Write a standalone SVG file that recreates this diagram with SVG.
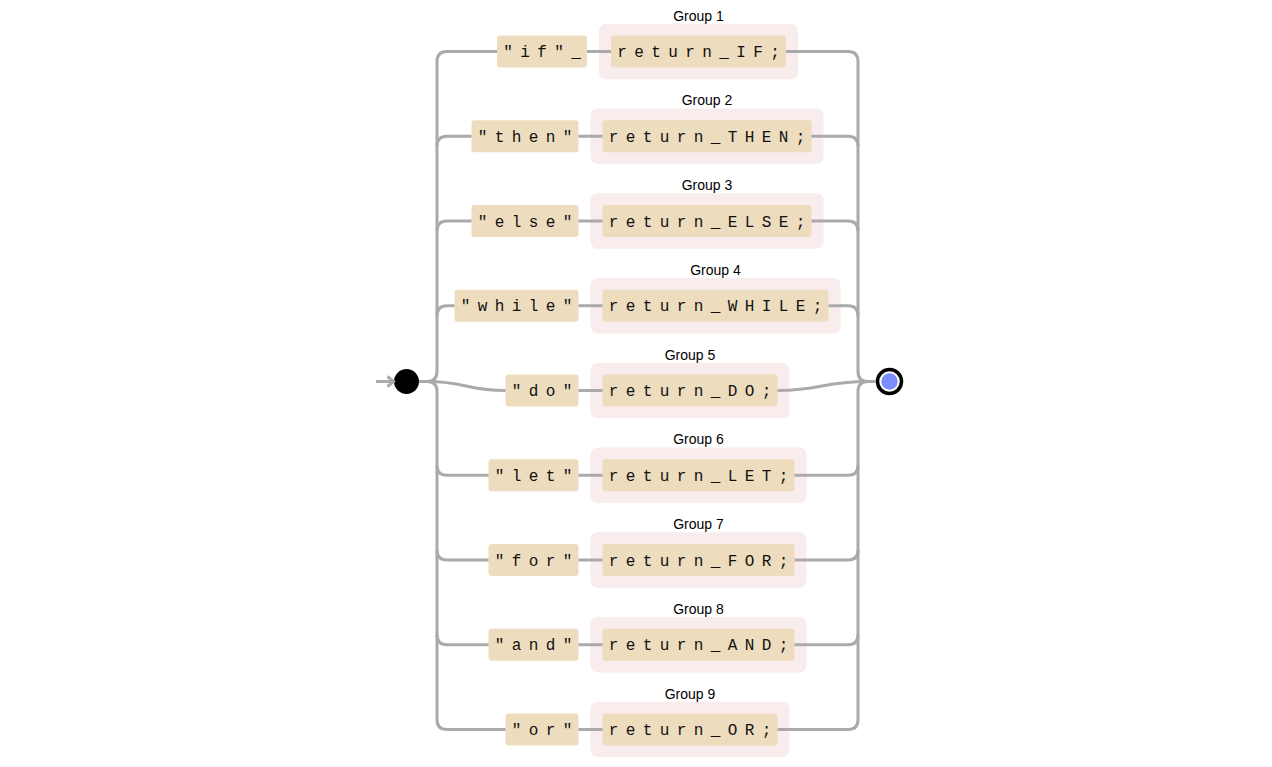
<svg xmlns="http://www.w3.org/2000/svg" width="1272" height="767" viewBox="0 0 1272 767">
<style>
.grp{fill:#f8ecec;}
.box{fill:#eddcbd;}
.lit{font-family:"Liberation Mono","DejaVu Sans Mono",monospace;font-size:16px;letter-spacing:7.4px;fill:#111;}
.lbl{font-family:"Liberation Sans",Arial,sans-serif;font-size:14px;fill:#000;text-anchor:middle;}
.wire{fill:none;stroke:#aaaaaa;stroke-width:3;}
</style>
<rect width="1272" height="767" fill="#ffffff"/>
<g id="start">
<circle cx="406.5" cy="381.5" r="12.5" fill="#000"/>
</g>
<g id="end">
<circle cx="889.5" cy="381.5" r="12" fill="#ffffff" stroke="#000" stroke-width="3.5"/>
<circle cx="889.5" cy="381.5" r="8.2" fill="#7b8cff"/>
</g>
<g id="row1">
<rect class="grp" x="599" y="23.75" width="199" height="55.5" rx="7"/>
<text class="lbl" x="698.5" y="20.5">Group 1</text>
<rect class="box" x="497" y="35.5" width="90" height="32" rx="3"/>
<text class="lit" x="503.2" y="57">"if"_</text>
<rect class="box" x="611" y="35.5" width="175" height="32" rx="3"/>
<text class="lit" x="617.2" y="57">return_IF;</text>
</g>
<g id="row2">
<rect class="grp" x="590.5" y="108.5" width="233" height="55.5" rx="7"/>
<text class="lbl" x="707" y="105.25">Group 2</text>
<rect class="box" x="471.5" y="120.25" width="107" height="32" rx="3"/>
<text class="lit" x="477.7" y="141.75">"then"</text>
<rect class="box" x="602.5" y="120.25" width="209" height="32" rx="3"/>
<text class="lit" x="608.7" y="141.75">return_THEN;</text>
</g>
<g id="row3">
<rect class="grp" x="590.5" y="193.25" width="233" height="55.5" rx="7"/>
<text class="lbl" x="707" y="190">Group 3</text>
<rect class="box" x="471.5" y="205" width="107" height="32" rx="3"/>
<text class="lit" x="477.7" y="226.5">"else"</text>
<rect class="box" x="602.5" y="205" width="209" height="32" rx="3"/>
<text class="lit" x="608.7" y="226.5">return_ELSE;</text>
</g>
<g id="row4">
<rect class="grp" x="590.5" y="278" width="250" height="55.5" rx="7"/>
<text class="lbl" x="715.5" y="274.75">Group 4</text>
<rect class="box" x="454.5" y="289.75" width="124" height="32" rx="3"/>
<text class="lit" x="460.7" y="311.25">"while"</text>
<rect class="box" x="602.5" y="289.75" width="226" height="32" rx="3"/>
<text class="lit" x="608.7" y="311.25">return_WHILE;</text>
</g>
<g id="row5">
<rect class="grp" x="590.5" y="362.75" width="199" height="55.5" rx="7"/>
<text class="lbl" x="690" y="359.5">Group 5</text>
<rect class="box" x="505.5" y="374.5" width="73" height="32" rx="3"/>
<text class="lit" x="511.7" y="396">"do"</text>
<rect class="box" x="602.5" y="374.5" width="175" height="32" rx="3"/>
<text class="lit" x="608.7" y="396">return_DO;</text>
</g>
<g id="row6">
<rect class="grp" x="590.5" y="447.5" width="216" height="55.5" rx="7"/>
<text class="lbl" x="698.5" y="444.25">Group 6</text>
<rect class="box" x="488.5" y="459.25" width="90" height="32" rx="3"/>
<text class="lit" x="494.7" y="480.75">"let"</text>
<rect class="box" x="602.5" y="459.25" width="192" height="32" rx="3"/>
<text class="lit" x="608.7" y="480.75">return_LET;</text>
</g>
<g id="row7">
<rect class="grp" x="590.5" y="532.25" width="216" height="55.5" rx="7"/>
<text class="lbl" x="698.5" y="529">Group 7</text>
<rect class="box" x="488.5" y="544" width="90" height="32" rx="3"/>
<text class="lit" x="494.7" y="565.5">"for"</text>
<rect class="box" x="602.5" y="544" width="192" height="32" rx="3"/>
<text class="lit" x="608.7" y="565.5">return_FOR;</text>
</g>
<g id="row8">
<rect class="grp" x="590.5" y="617" width="216" height="55.5" rx="7"/>
<text class="lbl" x="698.5" y="613.75">Group 8</text>
<rect class="box" x="488.5" y="628.75" width="90" height="32" rx="3"/>
<text class="lit" x="494.7" y="650.25">"and"</text>
<rect class="box" x="602.5" y="628.75" width="192" height="32" rx="3"/>
<text class="lit" x="608.7" y="650.25">return_AND;</text>
</g>
<g id="row9">
<rect class="grp" x="590.5" y="701.75" width="199" height="55.5" rx="7"/>
<text class="lbl" x="690" y="698.5">Group 9</text>
<rect class="box" x="505.5" y="713.5" width="73" height="32" rx="3"/>
<text class="lit" x="511.7" y="735">"or"</text>
<rect class="box" x="602.5" y="713.5" width="175" height="32" rx="3"/>
<text class="lit" x="608.7" y="735">return_OR;</text>
</g>
<g id="connectors">
<path class="wire" d="M376,381.5 H393"/>
<path class="wire" d="M387.5,376.5 L393.5,381.5 L387.5,386.5"/>
<path class="wire" d="M419,381.5 H427"/>
<path class="wire" d="M427,381.5 q10,0 10,-10 V61.5 q0,-10 10,-10 H497"/>
<path class="wire" d="M437,146.25 q0,-10 10,-10 H471.5"/>
<path class="wire" d="M437,231 q0,-10 10,-10 H471.5"/>
<path class="wire" d="M437,315.75 q0,-10 10,-10 H454.5"/>
<path class="wire" d="M427,381.5 C466,381.5 466,390.5 505.5,390.5"/>
<path class="wire" d="M427,381.5 q10,0 10,10 V719.5 q0,10 10,10 H505.5"/>
<path class="wire" d="M437,465.25 q0,10 10,10 H488.5"/>
<path class="wire" d="M437,550 q0,10 10,10 H488.5"/>
<path class="wire" d="M437,634.75 q0,10 10,10 H488.5"/>
<path class="wire" d="M587,51.5 H611"/>
<path class="wire" d="M578.5,136.25 H602.5"/>
<path class="wire" d="M578.5,221 H602.5"/>
<path class="wire" d="M578.5,305.75 H602.5"/>
<path class="wire" d="M578.5,390.5 H602.5"/>
<path class="wire" d="M578.5,475.25 H602.5"/>
<path class="wire" d="M578.5,560 H602.5"/>
<path class="wire" d="M578.5,644.75 H602.5"/>
<path class="wire" d="M578.5,729.5 H602.5"/>
<path class="wire" d="M786,51.5 H848 q10,0 10,10 V371.5 q0,10 10,10 H876"/>
<path class="wire" d="M811.5,136.25 H848 q10,0 10,10"/>
<path class="wire" d="M811.5,221 H848 q10,0 10,10"/>
<path class="wire" d="M828.5,305.75 H848 q10,0 10,10"/>
<path class="wire" d="M777.5,390.5 C822,390.5 822,381.5 868,381.5"/>
<path class="wire" d="M777.5,729.5 H848 q10,0 10,-10 V391.5 q0,-10 10,-10"/>
<path class="wire" d="M794.5,475.25 H848 q10,0 10,-10"/>
<path class="wire" d="M794.5,560 H848 q10,0 10,-10"/>
<path class="wire" d="M794.5,644.75 H848 q10,0 10,-10"/>
</g>
</svg>
